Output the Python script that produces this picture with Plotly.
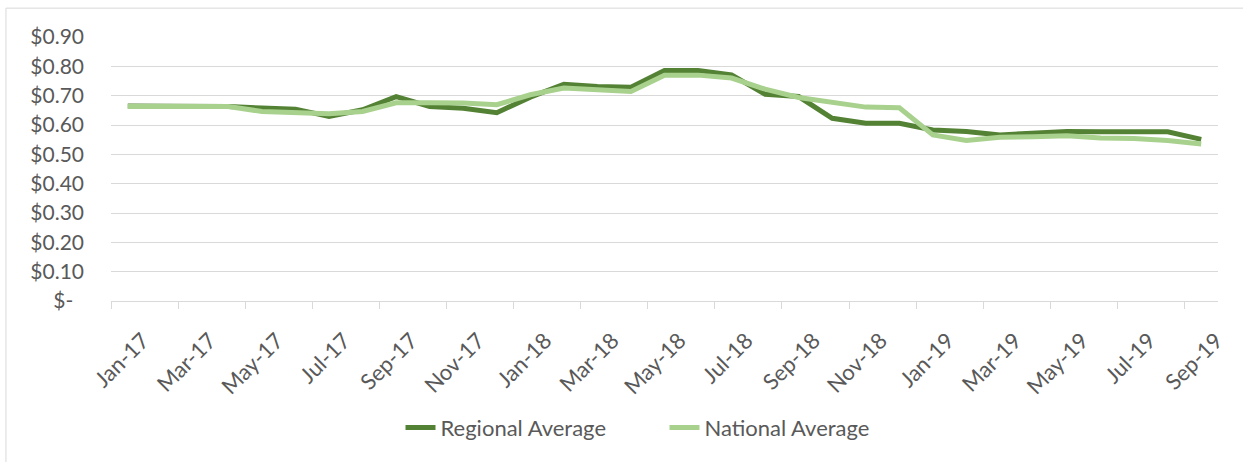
import plotly.graph_objects as go

months = ["Jan-17", "Feb-17", "Mar-17", "Apr-17", "May-17", "Jun-17", "Jul-17", "Aug-17",
          "Sep-17", "Oct-17", "Nov-17", "Dec-17", "Jan-18", "Feb-18", "Mar-18", "Apr-18",
          "May-18", "Jun-18", "Jul-18", "Aug-18", "Sep-18", "Oct-18", "Nov-18", "Dec-18",
          "Jan-19", "Feb-19", "Mar-19", "Apr-19", "May-19", "Jun-19", "Jul-19", "Aug-19",
          "Sep-19"]

regional = [0.665, 0.665, 0.665, 0.663, 0.658, 0.654, 0.629, 0.652, 0.697, 0.663, 0.657,
            0.642, 0.695, 0.739, 0.731, 0.729, 0.786, 0.786, 0.771, 0.705, 0.697, 0.623,
            0.606, 0.606, 0.583, 0.578, 0.566, 0.570, 0.578, 0.577, 0.577, 0.577, 0.551]

national = [0.663, 0.663, 0.663, 0.663, 0.646, 0.644, 0.638, 0.646, 0.676, 0.676, 0.675,
            0.669, 0.703, 0.726, 0.720, 0.714, 0.770, 0.770, 0.760, 0.722, 0.694, 0.676,
            0.661, 0.659, 0.566, 0.547, 0.558, 0.560, 0.563, 0.556, 0.554, 0.547, 0.535]

y_ticks = [0.0, 0.1, 0.2, 0.3, 0.4, 0.5, 0.6, 0.7, 0.8, 0.9]
y_tick_text = ["$-\u00a0\u00a0", "$0.10", "$0.20", "$0.30", "$0.40", "$0.50",
               "$0.60", "$0.70", "$0.80", "$0.90"]

pos = list(range(len(months)))
label_pos = pos[::2]
label_text = months[::2]
tick_marks = [p - 0.5 for p in label_pos]

FONT = "Lato"
TXT = "#595959"
GRID = "#d9d9d9"

fig = go.Figure()
fig.add_trace(go.Scatter(x=pos, y=regional, mode="lines", name="Regional Average",
                         line=dict(color="#548235", width=5)))
fig.add_trace(go.Scatter(x=pos, y=national, mode="lines", name="National Average",
                         line=dict(color="#A9D18E", width=5)))

fig.update_layout(
    width=1243, height=462,
    paper_bgcolor="white", plot_bgcolor="white",
    margin=dict(l=111, r=25, t=37, b=161, autoexpand=False),
    font=dict(family=FONT, size=21, color=TXT),
    showlegend=True,
    legend=dict(orientation="h", x=0.50, xanchor="center", y=-0.48, yanchor="middle",
                entrywidth=219, entrywidthmode="pixels",
                font=dict(family=FONT, size=22, color=TXT), bgcolor="rgba(0,0,0,0)"),
    xaxis=dict(range=[-0.5, len(months) - 0.5], tickmode="array", tickvals=label_pos,
               ticktext=label_text, tickangle=-45, ticks="", showgrid=False,
               zeroline=False, showline=True, linecolor=GRID, linewidth=1,
               ticklabelstandoff=17, ticklabelshift=15,
               tickfont=dict(family=FONT, size=22, color=TXT),
               minor=dict(tickmode="array", tickvals=tick_marks, ticks="outside",
                          ticklen=7, tickcolor=GRID, tickwidth=1, showgrid=False)),
    yaxis=dict(range=[0, 0.9], tickmode="array", tickvals=y_ticks, ticktext=y_tick_text,
               showgrid=True, gridcolor=GRID, gridwidth=1, zeroline=False, showline=False,
               ticks="", ticklabelstandoff=26,
               tickfont=dict(family=FONT, size=21, color=TXT)),
    shapes=[dict(type="rect", xref="paper", yref="paper", x0=-0.0949, x1=1.3,
                 y0=-1.0, y1=1.1093, line=dict(color=GRID, width=1),
                 fillcolor="rgba(0,0,0,0)", layer="below")],
)

fig.write_html("out.html", config={"displayModeBar": False},
               post_script="document.body.style.margin='0';")
